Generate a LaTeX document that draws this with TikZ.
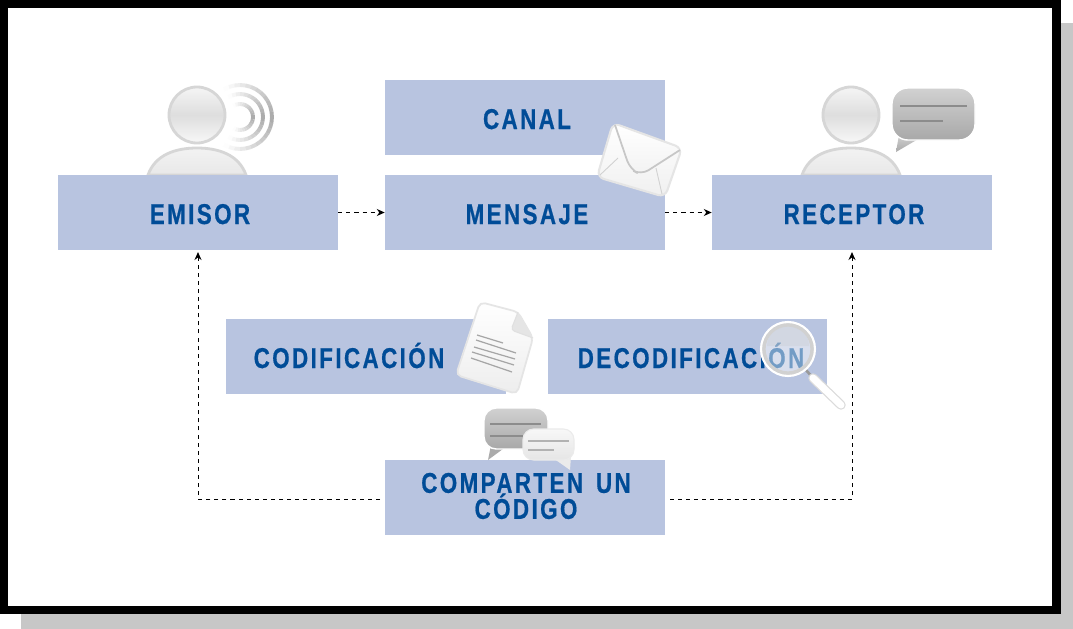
\documentclass[tikz,border=0pt]{standalone}
\usepackage{fontspec}
\newfontfamily\boxfont[FakeStretch=0.78,LetterSpace=8.5,WordSpace=1.5,FakeBold=0.6]{Liberation Sans}
\usetikzlibrary{positioning,arrows.meta}
\definecolor{boxblue}{HTML}{B8C4E0}
\definecolor{textblue}{HTML}{004C97}
\tikzset{
  boxnode/.style={fill=boxblue,minimum width=5.6cm,minimum height=1.5cm,inner sep=0pt},
  boxtext/.style={text=textblue,font=\boxfont\bfseries\fontsize{16.3}{14.8}\selectfont,align=center,inner sep=0pt},
  linkarrow/.style={dash pattern=on 2.3pt off 2.3pt,line width=0.5pt,-{Stealth[length=4.5pt,width=4pt]}},
  figline/.style={draw=black!16,line width=1.6pt},
  darkbubble/.style={top color=black!18,bottom color=black!34},
  bubbleline/.style={line width=1.5pt,black!45},
  sheetline/.style={line width=0.7pt,black!35}
}
\newcommand{\personfig}[2]{
  \begin{scope}[shift={(#1,#2)}]
    \draw[figline,top color=black!5,bottom color=black!9] (-49,60) .. controls (-42,40) and (-22,33) .. (0,33) .. controls (22,33) and (42,40) .. (49,60) -- cycle;
    \draw[figline,top color=black!4,bottom color=black!3,middle color=black!13] (0,0) circle (28);
  \end{scope}
}
\begin{document}
\begin{tikzpicture}[x=0.02cm,y=-0.02cm]
\useasboundingbox (0,0) rectangle (1073,629);
% frame and shadow
\fill[black!22] (21,23) rectangle (1073,629);
\fill[black] (0,0) rectangle (1061,614);
\fill[white] (8,8) rectangle (1052,606);

% people behind the boxes
\personfig{197}{115}
\personfig{851}{115}
\foreach \r in {32,23,13}
  \foreach \a in {-130,-120,...,120} {
    \pgfmathsetmacro\shd{max(0,34-0.29*abs(\a+5))}
    \draw[line width=2.2pt,black!\shd] (240,117) ++(\a:\r) arc (\a:\a+10.5:\r);
  }

% boxes
\node[boxnode] (canal) at (525,117.5) {};
\node[boxnode] (mensaje) at (525,212.5) {};
\node[boxnode] (emisor) at (198,212.5) {};
\node[boxnode] (receptor) at (852,212.5) {};
\node[boxnode] (codif) at (366,356.5) {};
\node[boxnode] (decodif) at (687.5,356.5) {};
\node[boxnode] (comparten) at (525,497.5) {};

\node[boxtext,anchor=base] (canaltxt) at (527,129) {CANAL};
\node[boxtext,anchor=base] (mensajetxt) at (527,224) {MENSAJE};
\node[boxtext,anchor=base] (emisortxt) at (200,224) {EMISOR};
\node[boxtext,anchor=base] (receptortxt) at (854,224) {RECEPTOR};
\node[boxtext,anchor=base] (codiftxt) at (349,368) {CODIFICACIÓN};
\node[boxtext,anchor=base] (decodiftxt) at (691,368) {DECODIFICACIÓN};
\node[boxtext] (compartentxt) at (526,496) {COMPARTEN UN\\CÓDIGO};

% connectors
\coordinate (compleft) at (380,499);
\coordinate (compright) at (670,499);
\draw[linkarrow] (emisor) -- (mensaje);
\draw[linkarrow] (mensaje) -- (receptor);
\draw[linkarrow,shorten >=1pt] (compleft) -| (emisor);
\draw[linkarrow,shorten >=1pt] (compright) -| (receptor);

% envelope
\draw[draw=black!10,line width=1.2pt,rounded corners=4,top color=white,bottom color=black!6] (613,123) -- (682,148) -- (665,197) -- (597,177) -- cycle;
\draw[black!18,line width=0.5pt] (600,175) -- (618,158);
\draw[black!18,line width=0.5pt] (662,194) -- (656,168);
\draw[black!22,line width=1pt,rounded corners=5,top color=white,bottom color=black!5] (615,125) -- (630,169) -- (641,175) -- (680,150);

% sheet
\draw[draw=black!10,line width=1pt,rounded corners=3,top color=white,bottom color=black!7] (480,302) -- (518,312) -- (533,338) -- (517,394) -- (456,375) -- cycle;
\draw[black!12,line width=0.6pt,fill=black!10,rounded corners=2] (518,312) -- (511,330) -- (533,338);
\draw[sheetline] (477,335) -- (503,343);
\draw[sheetline] (476,340) -- (516,353);
\draw[sheetline] (474,347) -- (515,359);
\draw[sheetline] (472,352) -- (514,365);
\draw[sheetline] (471,358) -- (512,372);

% magnifier
\draw[line width=1.5pt,black!40] (806,370) -- (813,378);
\draw[draw=black!14,line cap=round,line width=5.4pt] (813,378) -- (841,405);
\draw[draw=white,line cap=round,line width=4pt] (813,378) -- (841,405);
\fill[white,opacity=0.45] (788,349) circle (26);
\fill[black!25,opacity=0.22] (788,349) ++(-21,-3) arc (180:360:21) -- cycle;
\draw[black!18,line width=2.4pt] (788,349) circle (24.5);
\draw[white,line width=1.2pt] (788,349) circle (27);

% bubble receptor
\draw[draw=none,darkbubble] (899,135) -- (896,152) -- (920,138) -- cycle;
\draw[white,line width=0.8pt,rounded corners=9,darkbubble] (892,88) rectangle (975,140);
\draw[bubbleline] (900,106) -- (967,106);
\draw[bubbleline] (900,121) -- (943,121);

% bubbles codigo
\draw[draw=none,fill=black!33] (491,445) -- (488,460) -- (507,446) -- cycle;
\draw[white,line width=0.8pt,rounded corners=7,darkbubble] (484,408) rectangle (548,449);
\draw[bubbleline] (490,424) -- (541,424);
\draw[bubbleline] (490,436) -- (523,436);
\draw[draw=none,fill=black!8] (553,458) -- (570,470) -- (571,456) -- cycle;
\draw[black!8,line width=0.6pt,rounded corners=6,top color=black!3,bottom color=black!10] (523,429) rectangle (574,460);
\draw[black!30,line width=1pt] (528,441) -- (569,441);
\draw[black!30,line width=1pt] (528,450) -- (554,450);
\end{tikzpicture}
\end{document}
